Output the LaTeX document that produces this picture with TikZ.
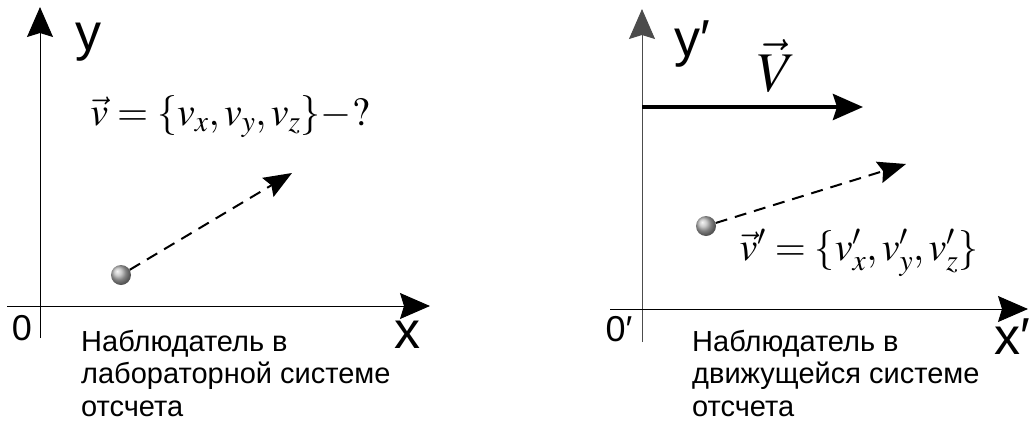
\documentclass[tikz,border=0pt]{standalone}
\usepackage{mathptmx}
\usepackage[no-math]{fontspec}
\setmainfont{Liberation Sans}
\usetikzlibrary{arrows.meta}
\tikzset{
  axis/.style={line width=1pt,-{Stealth[length=30pt,width=26pt,inset=4pt]}},
  velo/.style={line width=2pt,dash pattern=on 12pt off 8pt,-{Stealth[length=28pt,width=22pt,inset=4pt]}},
  drift/.style={line width=4pt,-{Stealth[length=30pt,width=26pt,inset=4pt]}},
  ball/.style={circle,inner sep=0pt,minimum size=20pt,shading=ball,ball color=gray!55},
  axlabel/.style={inner sep=0pt,font=\fontsize{52}{52}\selectfont},
  orig/.style={inner sep=0pt,font=\fontsize{36}{36}\selectfont},
  caption/.style={anchor=north west,align=left,inner sep=0pt,font=\fontsize{29}{32.5}\selectfont},
  formula/.style={inner sep=0pt,font=\fontsize{40}{40}\selectfont}
}
\begin{document}
\begin{tikzpicture}[x=1pt,y=-1pt]
\useasboundingbox (0,0) rectangle (1029,421);
% лабораторная система
\coordinate (ytip1) at (40,7);
\coordinate (xtip1) at (430,306);
\draw[axis] (40,338) -- (ytip1);
\draw[axis] (7,306) -- (xtip1);
\node[axlabel] (ylab1) at (88,42) {y};
\node[axlabel] (xlab1) at (407,335) {x};
\node[orig] (olab1) at (22,328) {0};
\node[formula] (vlab1) at (230,117) {$\vec{v}=\{v_x,v_y,v_z\}-?$};
\node[ball] (ball1) at (121,275) {};
\coordinate (vend1) at (292,173);
\draw[velo] (ball1) -- (vend1);
\node[caption] (cap1) at (81,330) {Наблюдатель в\\лабораторной системе\\отсчета};
% движущаяся система
\coordinate (ytip2) at (642,9);
\coordinate (xtip2) at (1028,309);
\draw[axis,gray!60!black] (642,342) -- (ytip2);
\draw[axis] (610,309) -- (xtip2);
\node[axlabel] (ylab2) at (692,44) {y′};
\node[axlabel] (xlab2) at (1012,337) {x′};
\node[orig] (olab2) at (619,329) {0′};
\coordinate (Vstart) at (642,107);
\coordinate (Vend) at (863,107);
\draw[drift] (Vstart) -- (Vend);
\node[inner sep=0pt,font=\fontsize{56}{56}\selectfont] (Vlab) at (777,66) {$\vec{V}$};
\node[ball] (ball2) at (706,226) {};
\coordinate (vend2) at (906,164);
\draw[velo] (ball2) -- (vend2);
\node[formula] (vlab2) at (859,253) {$\vec{v}'=\{v'_x,v'_y,v'_z\}$};
\node[caption] (cap2) at (692,330) {Наблюдатель в\\движущейся системе\\отсчета};
\end{tikzpicture}
\end{document}
